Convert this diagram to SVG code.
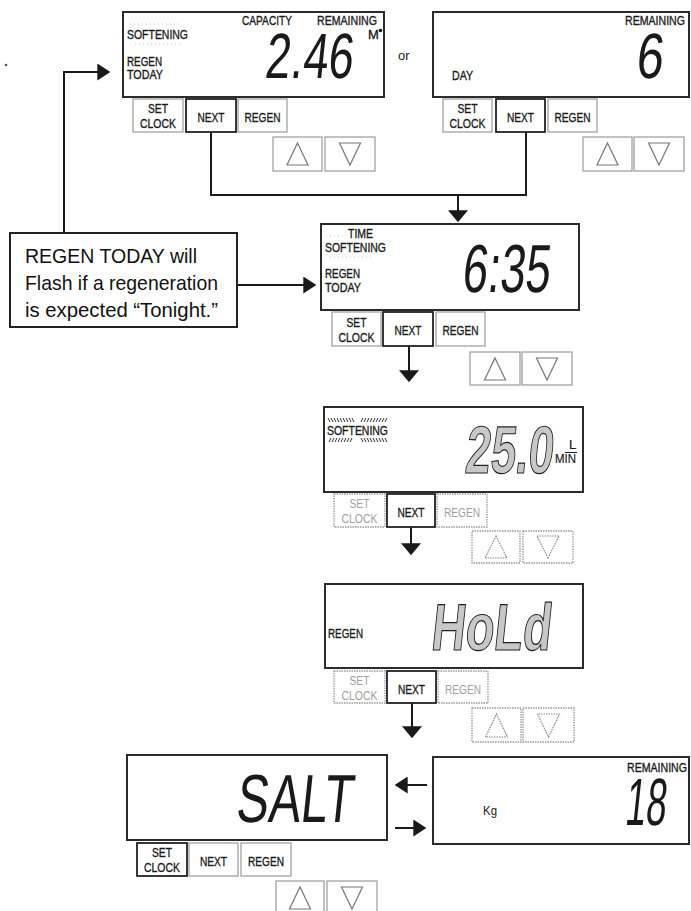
<svg xmlns="http://www.w3.org/2000/svg" width="691" height="911" viewBox="0 0 691 911">
<style>
.bg{fill:#fff}
.lcd{fill:#fff;stroke:#2b2b2b;stroke-width:2}
.btn{fill:#fff;stroke:#9a9a9a;stroke-width:1.2}
.bsel{fill:#fff;stroke:#222;stroke-width:1.8}
.bdim{fill:#fff;stroke:#999;stroke-width:1.3;stroke-dasharray:1.5 1}
.tri{fill:none;stroke:#777;stroke-width:1.2}
.tdim{fill:none;stroke:#888;stroke-width:1.2;stroke-dasharray:1.5 1}
.lbl{font-family:"Liberation Sans",Arial,sans-serif;font-size:13px;fill:#1a1a1a;stroke:#1a1a1a;stroke-width:0.35}
.bt{font-family:"Liberation Sans",Arial,sans-serif;font-size:13.5px;fill:#1a1a1a;stroke:#1a1a1a;stroke-width:0.35;text-anchor:middle}
.btd{font-family:"Liberation Sans",Arial,sans-serif;font-size:13.5px;fill:#a0a0a0;text-anchor:middle}
.dig{font-family:"Liberation Sans",Arial,sans-serif;fill:#1a1a1a}
.odig{font-family:"Liberation Sans",Arial,sans-serif;font-weight:bold;fill:#c8c8c8;stroke:#1f1f1f;stroke-width:1.2}
.call{font-family:"Liberation Sans",Arial,sans-serif;font-size:21px;fill:#111}
.conn{stroke:#1a1a1a;stroke-width:2;fill:none}
.dots{stroke:#c4c4c4;stroke-width:1;stroke-dasharray:1 3;fill:none}
.hatch{stroke:#333;stroke-width:1;fill:none}
</style>
<defs>
<marker id="ah" viewBox="0 0 10 10" refX="9" refY="5" markerUnits="userSpaceOnUse" markerWidth="13" markerHeight="17" orient="auto" preserveAspectRatio="none"><path d="M0 0L10 5L0 10z" fill="#1a1a1a"/></marker>
<marker id="ahw" viewBox="0 0 10 10" refX="9" refY="5" markerUnits="userSpaceOnUse" markerWidth="12" markerHeight="20" orient="auto" preserveAspectRatio="none"><path d="M0 0L10 5L0 10z" fill="#1a1a1a"/></marker>
</defs>
<rect class="bg" x="0" y="0" width="691" height="911"/>
<circle cx="6" cy="65" r="1.3" fill="#555"/>

<g id="connectors">
<path class="conn" d="M64 233V72H109" marker-end="url(#ah)"/>
<path class="conn" d="M237 285H315" marker-end="url(#ah)"/>
<path class="conn" d="M211 132V195H526V132"/>
<path class="conn" d="M458 195V221" marker-end="url(#ahw)"/>
<path class="conn" d="M409 346V381" marker-end="url(#ahw)"/>
<path class="conn" d="M411 527V554" marker-end="url(#ahw)"/>
<path class="conn" d="M412 703V737" marker-end="url(#ahw)"/>
<path class="conn" d="M427 785H396" marker-end="url(#ah)"/>
<path class="conn" d="M395 828H425" marker-end="url(#ah)"/>
</g>

<g id="display-capacity">
<rect class="lcd" x="123" y="12" width="261" height="85"/>
<path class="dots" d="M130 24H180M135 44H180"/>
<text class="lbl" x="127" y="39" textLength="61" lengthAdjust="spacingAndGlyphs">SOFTENING</text>
<text class="lbl" x="127" y="66" textLength="35" lengthAdjust="spacingAndGlyphs">REGEN</text>
<text class="lbl" x="127" y="79" textLength="36" lengthAdjust="spacingAndGlyphs">TODAY</text>
<text class="lbl" x="242" y="25" textLength="50" lengthAdjust="spacingAndGlyphs">CAPACITY</text>
<text class="lbl" x="317" y="25" textLength="60" lengthAdjust="spacingAndGlyphs">REMAINING</text>
<text class="lbl" x="368" y="39" font-size="11">M</text>
<circle cx="380.5" cy="30.5" r="1.8" fill="#1a1a1a"/>
<text class="dig" transform="translate(264 78) skewX(-6)" x="0" y="0" font-size="64" textLength="88" lengthAdjust="spacingAndGlyphs">2.46</text>
<rect class="btn" x="133" y="99" width="50" height="33"/>
<text class="bt" x="158" y="113" textLength="20" lengthAdjust="spacingAndGlyphs">SET</text>
<text class="bt" x="158" y="128" textLength="36" lengthAdjust="spacingAndGlyphs">CLOCK</text>
<rect class="bsel" x="186" y="99" width="50" height="33"/>
<text class="bt" x="211" y="122" textLength="27" lengthAdjust="spacingAndGlyphs">NEXT</text>
<rect class="btn" x="238" y="99" width="49" height="33"/>
<text class="bt" x="262.5" y="122" textLength="36" lengthAdjust="spacingAndGlyphs">REGEN</text>
<rect class="btn" x="273" y="137" width="49" height="34"/>
<path class="tri" d="M297.5 143L308 165H287z"/>
<rect class="btn" x="325" y="137" width="50" height="34"/>
<path class="tri" d="M350 165L360.5 143H339.5z"/>
</g>

<text id="or" class="lbl" x="398" y="60" font-size="14" style="stroke-width:0">or</text>

<g id="display-days">
<rect class="lcd" x="433" y="12" width="256" height="85"/>
<text class="lbl" x="625" y="25" textLength="60" lengthAdjust="spacingAndGlyphs">REMAINING</text>
<text class="lbl" x="452" y="80" textLength="21" lengthAdjust="spacingAndGlyphs">DAY</text>
<text class="dig" transform="translate(635 78) skewX(-6)" x="0" y="0" font-size="64" textLength="27" lengthAdjust="spacingAndGlyphs">6</text>
<rect class="btn" x="443" y="99" width="49" height="33"/>
<text class="bt" x="467.5" y="113" textLength="20" lengthAdjust="spacingAndGlyphs">SET</text>
<text class="bt" x="467.5" y="128" textLength="36" lengthAdjust="spacingAndGlyphs">CLOCK</text>
<rect class="bsel" x="496" y="99" width="49" height="33"/>
<text class="bt" x="520.5" y="122" textLength="27" lengthAdjust="spacingAndGlyphs">NEXT</text>
<rect class="btn" x="548" y="99" width="49" height="33"/>
<text class="bt" x="572.5" y="122" textLength="36" lengthAdjust="spacingAndGlyphs">REGEN</text>
<rect class="btn" x="583" y="137" width="49" height="34"/>
<path class="tri" d="M607.5 143L618 165H597z"/>
<rect class="btn" x="634" y="137" width="50" height="34"/>
<path class="tri" d="M659 165L669.5 143H648.5z"/>
</g>

<g id="callout">
<rect fill="#fff" stroke="#222" stroke-width="2" x="10" y="233" width="227" height="94"/>
<text class="call" x="25" y="263" textLength="172" lengthAdjust="spacingAndGlyphs">REGEN TODAY will</text>
<text class="call" x="25" y="290" textLength="193" lengthAdjust="spacingAndGlyphs">Flash if a regeneration</text>
<text class="call" x="25" y="317" textLength="193" lengthAdjust="spacingAndGlyphs">is expected “Tonight.”</text>
</g>

<g id="display-time">
<rect class="lcd" x="321" y="224" width="258" height="86"/>
<path class="dots" d="M326 236H345M330 257H372"/>
<text class="lbl" x="348" y="238" textLength="25" lengthAdjust="spacingAndGlyphs">TIME</text>
<text class="lbl" x="325" y="252" textLength="61" lengthAdjust="spacingAndGlyphs">SOFTENING</text>
<text class="lbl" x="325" y="278" textLength="35" lengthAdjust="spacingAndGlyphs">REGEN</text>
<text class="lbl" x="325" y="292" textLength="36" lengthAdjust="spacingAndGlyphs">TODAY</text>
<text class="dig" transform="translate(461 292) skewX(-6)" x="0" y="0" font-size="68" textLength="88" lengthAdjust="spacingAndGlyphs">6:35</text>
<rect class="btn" x="332" y="312" width="49" height="34"/>
<text class="bt" x="356.5" y="327" textLength="20" lengthAdjust="spacingAndGlyphs">SET</text>
<text class="bt" x="356.5" y="342" textLength="36" lengthAdjust="spacingAndGlyphs">CLOCK</text>
<rect class="bsel" x="383" y="312" width="50" height="34"/>
<text class="bt" x="408" y="335" textLength="27" lengthAdjust="spacingAndGlyphs">NEXT</text>
<rect class="btn" x="436" y="312" width="49" height="34"/>
<text class="bt" x="460.5" y="335" textLength="36" lengthAdjust="spacingAndGlyphs">REGEN</text>
<rect class="btn" x="470" y="352" width="50" height="33"/>
<path class="tri" d="M495 358L505.5 380H484.5z"/>
<rect class="btn" x="522" y="352" width="50" height="33"/>
<path class="tri" d="M547 380L557.5 358H536.5z"/>
</g>

<g id="display-flow">
<rect class="lcd" x="324" y="407" width="259" height="85"/>
<path class="hatch" d="M328 418l2 4M331 418l2 4M334 418l2 4M337 418l2 4M340 418l2 4M343 418l2 4M346 418l2 4M349 418l2 4M352 418l2 4M363 418l-2 4M366 418l-2 4M369 418l-2 4M372 418l-2 4M375 418l-2 4M378 418l-2 4M381 418l-2 4M384 418l-2 4M387 418l-2 4"/>
<path class="hatch" d="M331 438l-2 4M334 438l-2 4M337 438l-2 4M340 438l-2 4M343 438l-2 4M346 438l-2 4M349 438l-2 4M352 438l-2 4M361 438l2 4M364 438l2 4M367 438l2 4M370 438l2 4M373 438l2 4M376 438l2 4M379 438l2 4M382 438l2 4M385 438l2 4"/>
<text class="lbl" x="327" y="435" textLength="61" lengthAdjust="spacingAndGlyphs">SOFTENING</text>
<text class="odig" transform="translate(464 473) skewX(-6)" x="0" y="0" font-size="67" textLength="88" lengthAdjust="spacingAndGlyphs">25.0</text>
<text class="lbl" x="569" y="449" font-size="10" style="stroke-width:0.2">L</text>
<path d="M565 452.5H577" stroke="#1a1a1a" stroke-width="1"/>
<text class="lbl" x="555" y="463" font-size="10" style="stroke-width:0.2" textLength="21" lengthAdjust="spacingAndGlyphs">MIN</text>
<rect class="bdim" x="334" y="494" width="51" height="33"/>
<text class="btd" x="359.5" y="508" textLength="20" lengthAdjust="spacingAndGlyphs">SET</text>
<text class="btd" x="359.5" y="523" textLength="36" lengthAdjust="spacingAndGlyphs">CLOCK</text>
<rect class="bsel" x="387" y="494" width="48" height="33"/>
<text class="bt" x="411" y="517" textLength="27" lengthAdjust="spacingAndGlyphs">NEXT</text>
<rect class="bdim" x="437" y="494" width="50" height="33"/>
<text class="btd" x="462" y="517" textLength="36" lengthAdjust="spacingAndGlyphs">REGEN</text>
<rect class="bdim" x="472" y="531" width="48" height="32"/>
<path class="tdim" d="M496 536L507 558H485z"/>
<rect class="bdim" x="523" y="531" width="50" height="32"/>
<path class="tdim" d="M548 558L559 536H537z"/>
</g>

<g id="display-hold">
<rect class="lcd" x="325" y="584" width="258" height="84"/>
<text class="lbl" x="328" y="638" textLength="35" lengthAdjust="spacingAndGlyphs">REGEN</text>
<text class="odig" transform="translate(430 650) skewX(-6)" x="0" y="0" font-size="66" textLength="120" lengthAdjust="spacingAndGlyphs">HoLd</text>
<rect class="bdim" x="334" y="671" width="51" height="32"/>
<text class="btd" x="359.5" y="685" textLength="20" lengthAdjust="spacingAndGlyphs">SET</text>
<text class="btd" x="359.5" y="700" textLength="36" lengthAdjust="spacingAndGlyphs">CLOCK</text>
<rect class="bsel" x="387" y="671" width="49" height="32"/>
<text class="bt" x="411.5" y="694" textLength="27" lengthAdjust="spacingAndGlyphs">NEXT</text>
<rect class="bdim" x="438" y="671" width="50" height="32"/>
<text class="btd" x="463" y="694" textLength="36" lengthAdjust="spacingAndGlyphs">REGEN</text>
<rect class="bdim" x="472" y="708" width="49" height="34"/>
<path class="tdim" d="M496.5 714L507.5 737H485.5z"/>
<rect class="bdim" x="523" y="708" width="51" height="34"/>
<path class="tdim" d="M548.5 737L559.5 714H537.5z"/>
</g>

<g id="display-salt">
<rect class="lcd" x="127" y="755" width="260" height="85"/>
<text class="dig" transform="translate(235 822) skewX(-6)" x="0" y="0" font-size="68" textLength="117" lengthAdjust="spacingAndGlyphs">SALT</text>
<rect class="bsel" x="137" y="843" width="50" height="33"/>
<text class="bt" x="162" y="857" textLength="20" lengthAdjust="spacingAndGlyphs">SET</text>
<text class="bt" x="162" y="872" textLength="36" lengthAdjust="spacingAndGlyphs">CLOCK</text>
<rect class="btn" x="189" y="843" width="49" height="33"/>
<text class="bt" x="213.5" y="866" textLength="27" lengthAdjust="spacingAndGlyphs">NEXT</text>
<rect class="btn" x="241" y="843" width="50" height="33"/>
<text class="bt" x="266" y="866" textLength="36" lengthAdjust="spacingAndGlyphs">REGEN</text>
<rect class="btn" x="276" y="881" width="48" height="34"/>
<path class="tri" d="M300 887L310.5 909H289.5z"/>
<rect class="btn" x="327" y="881" width="50" height="34"/>
<path class="tri" d="M352 909L362.5 887H341.5z"/>
</g>

<g id="display-salt-remaining">
<rect class="lcd" x="433" y="757" width="256" height="87"/>
<text class="lbl" x="627" y="772" textLength="60" lengthAdjust="spacingAndGlyphs">REMAINING</text>
<text class="lbl" x="483" y="815" style="stroke-width:0" textLength="14" lengthAdjust="spacingAndGlyphs">Kg</text>
<text class="dig" transform="translate(624 825) skewX(-6)" x="0" y="0" font-size="67" textLength="41" lengthAdjust="spacingAndGlyphs">18</text>
</g>
</svg>
